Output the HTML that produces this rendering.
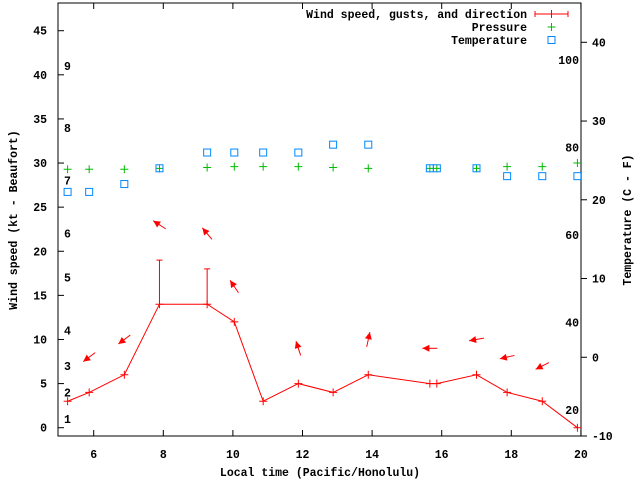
<!DOCTYPE html>
<html><head><meta charset="utf-8"><style>
html,body{margin:0;padding:0;background:#fff;}
svg{display:block;font-family:"Liberation Mono",monospace;font-weight:bold;font-size:11.5px;}
</style></head><body>
<svg id="chart" width="640" height="480" viewBox="0 0 640 480">
<g id="axes"></g>
<g id="marks"></g>
</svg>
<script>
const times=[5.25,5.87,6.88,7.89,9.26,10.04,10.87,11.88,12.88,13.89,15.66,15.86,17.0,17.88,18.89,19.9];
const windSpeed=[3,4,6,14,14,12,3,5,4,6,5,5,6,4,3,0];
const gusts=[null,null,null,19,18,null,null,null,null,null,null,null,null,null,null,null];
const windDir=[null,53,53,123,140,146,null,162,null,192,90,null,80,77,63,null];
const pressure=[29.3,29.3,29.3,29.4,29.5,29.6,29.6,29.6,29.5,29.4,29.4,29.4,29.4,29.6,29.6,30.0];
const temperature=[21,21,22,24,26,26,26,26,27,27,24,24,24,23,23,23];
const xTicks=[6,8,10,12,14,16,18,20];
const yTicks=[0,5,10,15,20,25,30,35,40,45];
const cTicks=[-10,0,10,20,30,40];
const fTicks=[20,40,60,80,100];
const beaufortLabels=[1,2,3,4,5,6,7,8,9];
const beaufortKt=[1,4,7,11,17,22,28,34,41];

const L=58,R=581,T=3,B=436;
const xS=t=>93.7+(t-6)*34.8;
const yS=v=>427.7-v*8.822;
const yC=c=>436-(c+10)*7.874;
const yF=f=>yC((f-32)*5/9);
const NS='http://www.w3.org/2000/svg';
function mk(tag,attrs,parent,txt){const e=document.createElementNS(NS,tag);for(const k in attrs)e.setAttribute(k,attrs[k]);if(txt!==undefined)e.textContent=txt;parent.appendChild(e);return e;}
const ax=document.getElementById('axes'),mg=document.getElementById('marks');

let fr=mk('rect',{x:L,y:T,width:R-L,height:B-T,fill:'none',stroke:'#000','stroke-width':1},ax);



xTicks.forEach(t=>{const x=xS(t);
 let l=mk('line',{x1:x,y1:B,x2:x,y2:B-6,stroke:'#000'},ax);
 
 
 let l2=mk('line',{x1:x,y1:T,x2:x,y2:T+6,stroke:'#000'},ax);
 
 
 let tx=mk('text',{x:x,y:458,'text-anchor':'middle'},ax,String(t));
 
 
});
yTicks.forEach(v=>{const y=yS(v);
 let l=mk('line',{x1:L,y1:y,x2:L+6,y2:y,stroke:'#000'},ax);
 
 
 let tx=mk('text',{x:47,y:y+4,'text-anchor':'end'},ax,String(v));
 
 
});
cTicks.forEach(c=>{const y=yC(c);
 let l=mk('line',{x1:R,y1:y,x2:R+6,y2:y,stroke:'#000'},ax);
 
 
 let tx=mk('text',{x:592,y:y+4,'text-anchor':'start'},ax,String(c));
 
 
});
fTicks.forEach(f=>{const y=yF(f);
 let tx=mk('text',{x:579,y:y+4,'text-anchor':'end'},ax,String(f));
 
 
});
beaufortLabels.forEach((b,i)=>{
 let tx=mk('text',{x:64,y:yS(beaufortKt[i])+4},ax,String(b));
 
 
});
let xt=mk('text',{x:320,y:476,'text-anchor':'middle'},ax,'Local time (Pacific/Honolulu)');


let yt=mk('text',{x:0,y:0,'text-anchor':'middle',transform:'translate(17,220) rotate(-90)'},ax,'Wind speed (kt - Beaufort)');


let y2t=mk('text',{x:0,y:0,'text-anchor':'middle',transform:'translate(631,220) rotate(-90)'},ax,'Temperature (C - F)');



// clip
const defs=mk('defs',{},mg);const cp=mk('clipPath',{id:'pc'},defs);mk('rect',{x:L,y:T,width:R-L,height:B-T},cp);
const g=mk('g',{'clip-path':'url(#pc)'},mg);

function plus(x,y,col,name){let p=mk('path',{d:`M${x-4},${y}H${x+4}M${x},${y-4}V${y+4}`,stroke:col,'stroke-width':1,fill:'none'},g);
 
 }

// wind line
let pts=times.map((t,i)=>xS(t)+','+yS(windSpeed[i])).join(' ');
let wl=mk('polyline',{points:pts,fill:'none',stroke:'#f00','stroke-width':1},g);


times.forEach((t,i)=>{plus(xS(t),yS(windSpeed[i]),'#f00','wind-speed-point');
 if(gusts[i]!==null){const x=xS(t);
  let gp=mk('path',{d:`M${x},${yS(windSpeed[i])}V${yS(gusts[i])}M${x-3},${yS(gusts[i])}H${x+3}`,stroke:'#f00',fill:'none'},g);
  
  }
 if(windDir[i]!==null){
  const base=gusts[i]!==null?gusts[i]:windSpeed[i];
  const cx=xS(t),cy=yS(base+4);
  const h=(windDir[i]+180)*Math.PI/180;const ux=Math.sin(h),uy=-Math.cos(h);
  const hx=cx+ux*7.5,hy=cy+uy*7.5,tx=cx-ux*7.5,ty=cy-uy*7.5;
  const px=-uy,py=ux;
  let a=mk('g',{},g);
  
  
  mk('line',{x1:tx,y1:ty,x2:hx,y2:hy,stroke:'#f00','stroke-width':1},a);
  mk('polygon',{points:`${hx},${hy} ${hx-ux*7+px*3.5},${hy-uy*7+py*3.5} ${hx-ux*7-px*3.5},${hy-uy*7-py*3.5}`,fill:'#f00'},a);
 }
});
times.forEach((t,i)=>{plus(xS(t),yS(pressure[i]),'#0b0','pressure-point');});
times.forEach((t,i)=>{let r=mk('rect',{x:xS(t)-3.5,y:yC(temperature[i])-3.5,width:7,height:7,fill:'none',stroke:'#08f','stroke-width':1},g);
 
 });

// legend
const lg=mk('g',{},ax);


[['Wind speed, gusts, and direction','wind'],['Pressure','pressure'],['Temperature','temp']].forEach((e,i)=>{
 const y=14+i*13;
 let tx=mk('text',{x:527,y:y+4,'text-anchor':'end'},lg,e[0]);
 
 
 if(e[1]==='wind'){mk('path',{d:`M535,${y}H568M535,${y-3}V${y+3}M568,${y-3}V${y+3}M551.5,${y-4}V${y+4}`,stroke:'#f00',fill:'none'},lg);}
 else if(e[1]==='pressure'){mk('path',{d:`M551.5,${y-4}V${y+4}M547.5,${y}H555.5`,stroke:'#0b0',fill:'none'},lg);}
 else{mk('rect',{x:548,y:y-3.5,width:7,height:7,fill:'none',stroke:'#08f'},lg);}
});
</script>
</body></html>
